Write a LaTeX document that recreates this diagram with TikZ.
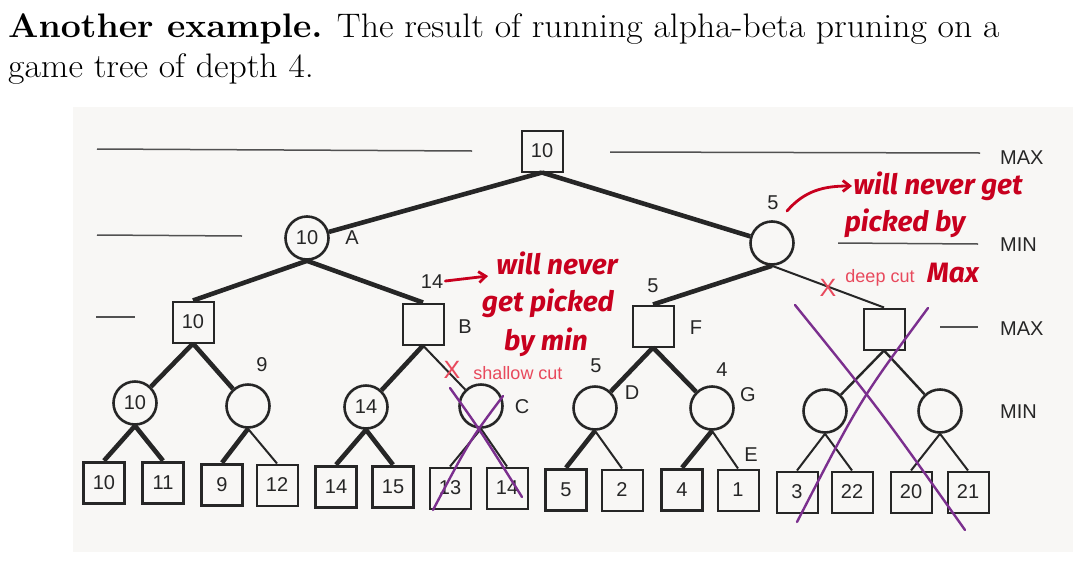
\documentclass[tikz,border=0pt]{standalone}
\usepackage{fontspec}
\setsansfont{Liberation Sans}
\newfontfamily\hand{Fira Sans}
\usetikzlibrary{arrows.meta}
\definecolor{scan}{HTML}{F8F7F5}
\definecolor{ink}{HTML}{262626}
\definecolor{hred}{HTML}{C8001E}
\definecolor{pinkred}{HTML}{E8495C}
\definecolor{purp}{HTML}{7B2F8E}
\begin{document}
\begin{tikzpicture}[x=1pt,y=-1pt,
  lab/.style={font=\sffamily\fontsize{20}{20}\selectfont, text=ink, inner sep=0},
  sq/.style={draw=ink, line width=2pt, minimum size=41pt, inner sep=0, font=\sffamily\fontsize{20}{20}\selectfont, text=ink},
  sqthick/.style={sq, line width=3.6pt},
  circ/.style={circle, draw=ink, line width=2.6pt, minimum size=43pt, inner sep=0, font=\sffamily\fontsize{20}{20}\selectfont, text=ink},
  thk/.style={draw=ink, line width=4.6pt},
  thn/.style={draw=ink, line width=2pt},
  lvl/.style={draw=ink!80, line width=1.5pt},
  handw/.style={font=\hand\bfseries\itshape\fontsize{28}{28}\selectfont, text=hred, inner sep=0},
  cutx/.style={font=\sffamily\fontsize{25}{25}\selectfont, text=pinkred, inner sep=0},
  cutt/.style={font=\sffamily\fontsize{18}{18}\selectfont, text=pinkred, inner sep=0},
  pstroke/.style={draw=purp, line width=2.4pt, line cap=round}
]
\useasboundingbox (0,0) rectangle (1084,560);
\fill[white] (0,0) rectangle (1084,560);
\fill[scan] (73,107) rectangle (1073,552);

% heading
\node[anchor=base west, inner sep=0, font=\fontsize{34}{40}\selectfont] (h1) at (8,37)
  {\scalebox{1.05}[1]{\textbf{Another example.} The result of running alpha-beta pruning on a}};
\node[anchor=base west, inner sep=0, font=\fontsize{34}{40}\selectfont] (h2) at (8,77)
  {\scalebox{1.05}[1]{game tree of depth 4.}};

% level lines and labels
\draw[lvl] (97,149) -- (472,151);
\draw[lvl] (610,152) -- (980,153);
\node[lab, anchor=west] (max1) at (1000,158) {MAX};
\draw[lvl] (97,235) -- (242,236);
\draw[lvl] (838,243) -- (978,244);
\node[lab, anchor=west] (min1) at (1000,245) {MIN};
\draw[lvl] (96,317) -- (135,317);
\draw[lvl] (940,327) -- (978,327);
\node[lab, anchor=west] (max2) at (1000,329) {MAX};
\node[lab, anchor=west] (min2) at (1000,412) {MIN};

% nodes
\node[sq] (r) at (542,151) {10};
\node[circ] (A) at (307,238) {10};
\node[circ] (R1) at (772,243) {};
\node[sq] (S1) at (193,322) {10};
\node[sq] (B) at (423,324) {};
\node[sq] (F) at (653,326) {};
\node[sq] (S4) at (884,329) {};
\node[circ] (c1) at (135,403) {10};
\node[circ] (c2) at (248,406) {};
\node[circ] (c3) at (366,407) {14};
\node[circ] (C) at (481,406) {};
\node[circ] (D) at (595,408) {};
\node[circ] (G) at (712,408) {};
\node[circ] (c7) at (825,411) {};
\node[circ] (c8) at (940,411) {};

\node[sqthick] (l1) at (104,483) {10};
\node[sqthick] (l2) at (163,483) {11};
\node[sqthick] (l3) at (222,485) {9};
\node[sq] (l4) at (277,485) {12};
\node[sqthick] (l5) at (336,487) {14};
\node[sqthick] (l6) at (393,487) {15};
\node[sq] (l7) at (450,488) {13};
\node[sq] (l8) at (507,488) {14};
\node[sqthick] (l9) at (566,490) {5};
\node[sq] (l10) at (622,490) {2};
\node[sqthick] (l11) at (682,490) {4};
\node[sq] (l12) at (738,490) {1};
\node[sq] (l13) at (797,492) {3};
\node[sq] (l14) at (852,492) {22};
\node[sq] (l15) at (911,492) {20};
\node[sq] (l16) at (968,492) {21};

% edges
\draw[thk] (r.south) -- (A);
\draw[thk] (r.south) -- (R1);
\draw[thk] (A.south) -- (S1.north);
\draw[thk] (A.south) -- (B.north);
\draw[thk] (R1.south) -- (F.north);
\draw[thn] (R1.south) -- (S4.north);
\draw[thk] (S1.south) -- (c1);
\draw[thk] (S1.south) -- (c2);
\draw[thk] (B.south) -- (c3);
\draw[thn] (B.south) -- (C);
\draw[thk] (F.south) -- (D);
\draw[thk] (F.south) -- (G);
\draw[thn, line width=2.4pt] (S4.south) -- (c7);
\draw[thn, line width=2.4pt] (S4.south) -- (c8);
\draw[thk] (c1.south) -- (l1.north);
\draw[thk] (c1.south) -- (l2.north);
\draw[thk] (c2.south) -- (l3.north);
\draw[thn] (c2.south) -- (l4.north);
\draw[thk] (c3.south) -- (l5.north);
\draw[thk] (c3.south) -- (l6.north);
\draw[thn] (C.south) -- (l7.north);
\draw[thn] (C.south) -- (l8.north);
\draw[thk] (D.south) -- (l9.north);
\draw[thn] (D.south) -- (l10.north);
\draw[thk] (G.south) -- (l11.north);
\draw[thn] (G.south) -- (l12.north);
\draw[thn] (c7.south) -- (l13.north);
\draw[thn] (c7.south) -- (l14.north);
\draw[thn] (c8.south) -- (l15.north);
\draw[thn] (c8.south) -- (l16.north);

% edge values and letters
\node[lab] (v9) at (262,365) {9};
\node[lab] (v14) at (432,282) {14};
\node[lab] (v5a) at (773,203) {5};
\node[lab] (v5b) at (653,286) {5};
\node[lab] (v5c) at (596,366) {5};
\node[lab] (v4) at (722,370) {4};
\node[lab] (tA) at (352,238) {A};
\node[lab] (tB) at (465,327) {B};
\node[lab] (tC) at (522,407) {C};
\node[lab] (tD) at (632,393) {D};
\node[lab] (tF) at (696,328) {F};
\node[lab] (tG) at (748,395) {G};
\node[lab] (tE) at (751,455) {E};

% red handwritten annotations
\coordinate (a1e) at (488,276);
\draw[hred, line width=2.8pt, line cap=round, -{Straight Barb[length=7pt,width=11pt]}] (v14.east) ++(2,-1) -- (a1e);
\node[handw] (w1) at (557,263) {will never};
\node[handw] (w2) at (548,303) {get picked};
\node[handw] (w3) at (546,342) {by min};

\coordinate (a2e) at (852,186);
\draw[hred, line width=2.8pt, line cap=round, -{Straight Barb[length=7pt,width=11pt]}] (787,211) .. controls (805,190) and (825,186) .. (a2e);
\node[handw] (w4) at (938,186) {will never get};
\node[handw] (w5) at (905,223) {picked by};
\node[handw] (w6) at (953,273) {Max};

% cut markers
\node[cutx] (x1) at (452,370) {X};
\node[cutt] (sc) at (518,373) {shallow cut};
\node[cutx] (x2) at (828,288) {X};
\node[cutt] (dc) at (880,278) {deep cut};

% purple crosses
\draw[pstroke] (450,388) .. controls (480,430) .. (522,497);
\draw[pstroke] (503,396) .. controls (470,440) .. (433,510);
\draw[pstroke] (795,305) .. controls (880,410) .. (965,530);
\draw[pstroke] (928,308) .. controls (860,400) .. (797,522);
\end{tikzpicture}
\end{document}
